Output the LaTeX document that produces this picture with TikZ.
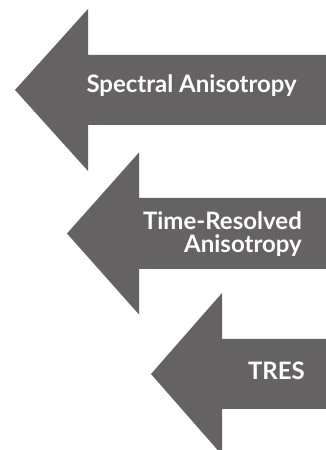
\documentclass[tikz,border=0pt]{standalone}
\usepackage{fontspec}
\setmainfont{Lato}
\usepackage{xcolor}
\usetikzlibrary{positioning}
\definecolor{ArrowGray}{HTML}{656263}

\begin{document}
\begin{tikzpicture}[
            x=1pt, y=1pt,
            arrowfill/.style={fill=ArrowGray},
            label/.style={text=white, inner sep=0pt, font=\fontsize{24}{23}\selectfont\bfseries, align=right}
        ]
            \useasboundingbox (0,0) rectangle (326,450);
            \clip (0,0) rectangle (326,450);

            % arrows
            \fill[arrowfill] (15,360) -- (88,441) -- (88,395) -- (326,395) -- (326,325) -- (88,325) -- (88,279) -- cycle;
            \fill[arrowfill] (67,216.5) -- (139,297.5) -- (139,252) -- (326,252) -- (326,181) -- (139,181) -- (139,135.5) -- cycle;
            \fill[arrowfill] (151,76) -- (222,157) -- (222,111) -- (326,111) -- (326,41) -- (222,41) -- (222,-5) -- cycle;

            % labels
            \node[label, anchor=base east] (spectral) at (297,357) {Spectral Anisotropy};
            \node[label, anchor=east] (timeres) at (302,216) {Time-Resolved\\Anisotropy};
            \node[label, anchor=base east] (tres) at (305,70) {TRES};

        \end{tikzpicture}
\end{document}
